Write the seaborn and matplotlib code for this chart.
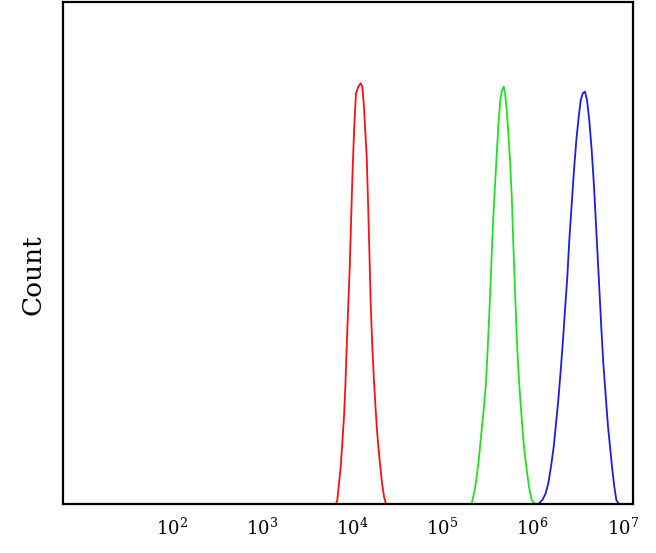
import numpy as np
import pandas as pd
import matplotlib
matplotlib.use("Agg")
import matplotlib.pyplot as plt
import seaborn as sns

# log10 fluorescence intensity and counts
red_log = [3.823, 3.837, 3.856, 3.875, 3.892, 3.911, 3.926, 3.941, 3.959, 3.975,
           3.989, 4.003, 4.019, 4.030, 4.044, 4.070, 4.096, 4.114, 4.130, 4.144,
           4.163, 4.177, 4.192, 4.207, 4.225, 4.241, 4.258, 4.274, 4.292, 4.310,
           4.333, 4.355, 4.377]
red_count = [0, 4, 20.7, 37.3, 60.7, 87.3, 117.3, 157.3, 200.7, 237.3,
             280.7, 324, 364, 387.3, 410.7, 417.3, 420.7, 417.3, 400.7, 377.3,
             347.3, 304, 254, 200.7, 157.3, 127.3, 100.7, 77.3, 57.3, 40.7,
             20.7, 7.3, 0]

green_log = [5.308, 5.327, 5.353, 5.378, 5.405, 5.430, 5.456, 5.482, 5.500, 5.519,
             5.538, 5.555, 5.574, 5.593, 5.611, 5.626, 5.644, 5.663, 5.682, 5.696,
             5.715, 5.733, 5.752, 5.771, 5.788, 5.807, 5.826, 5.844, 5.866, 5.888,
             5.910, 5.937, 5.962, 5.992, 6.029]
green_count = [0, 0.7, 10.7, 24, 44, 67.3, 90.7, 117.3, 147.3, 184,
               224, 264, 300.7, 330.7, 360.7, 384, 404, 414, 417.3, 410.7,
               394, 370.7, 344, 307.3, 260.7, 214, 167.3, 134, 104, 77.3,
               54, 34, 17.3, 4, 0]

blue_log = [6.029, 6.065, 6.110, 6.147, 6.176, 6.206, 6.236, 6.262, 6.287, 6.314,
            6.339, 6.361, 6.387, 6.409, 6.436, 6.461, 6.487, 6.513, 6.536, 6.558,
            6.583, 6.605, 6.630, 6.657, 6.683, 6.708, 6.735, 6.761, 6.786, 6.813,
            6.838, 6.864, 6.886, 6.908, 6.930, 6.960]
blue_count = [0, 0, 4, 10.7, 20.7, 37.3, 57.3, 80.7, 104, 134,
              164, 194, 227.3, 264, 300.7, 334, 364, 387.3, 404, 410.7,
              412.3, 404, 384, 354, 317.3, 274, 227.3, 180.7, 140.7, 107.3,
              77.3, 54, 34, 17.3, 4, 0]

tick_exps = [2, 3, 4, 5, 6, 7]
tick_labels = [r"$10^{%d}$" % e for e in tick_exps]

series = [("red", red_log, red_count, "#ff1010"),
          ("green", green_log, green_count, "#22e022"),
          ("blue", blue_log, blue_count, "#1c1ce6")]

sns.set_style("white")
plt.rcParams["font.family"] = ["DejaVu Serif"]
plt.rcParams["mathtext.fontset"] = "dejavuserif"
plt.rcParams["text.color"] = "black"
plt.rcParams["axes.labelcolor"] = "black"
plt.rcParams["xtick.color"] = "black"

fig = plt.figure(figsize=(6.56, 5.53), dpi=100)
ax = fig.add_axes([63 / 656, 49 / 553, 570 / 656, 502 / 553])

for name, lg, cnt, col in series:
    df = pd.DataFrame({"x": 10 ** np.array(lg), "y": cnt})
    sns.lineplot(data=df, x="x", y="y", ax=ax, color=col, linewidth=1.3,
                 sort=False, estimator=None)

ax.set_xscale("log")
ax.set_xlim(10 ** 0.796, 10 ** 7.115)
ax.set_ylim(0, 502)
ax.set_xticks([10.0 ** e for e in tick_exps])
ax.set_xticklabels(tick_labels)
ax.xaxis.set_minor_locator(matplotlib.ticker.NullLocator())
ax.set_yticks([])
ax.tick_params(axis="x", length=0, pad=10, labelsize=13, labelcolor="black")
ax.set_xlabel("")
ax.set_ylabel("Count", fontsize=19, labelpad=14, color="black")
ax.yaxis.set_label_coords(-0.031, 0.456)
for sp in ax.spines.values():
    sp.set_visible(True)
    sp.set_color("black")
    sp.set_linewidth(1.6)

fig.savefig("out.png", dpi=100, facecolor="white")
